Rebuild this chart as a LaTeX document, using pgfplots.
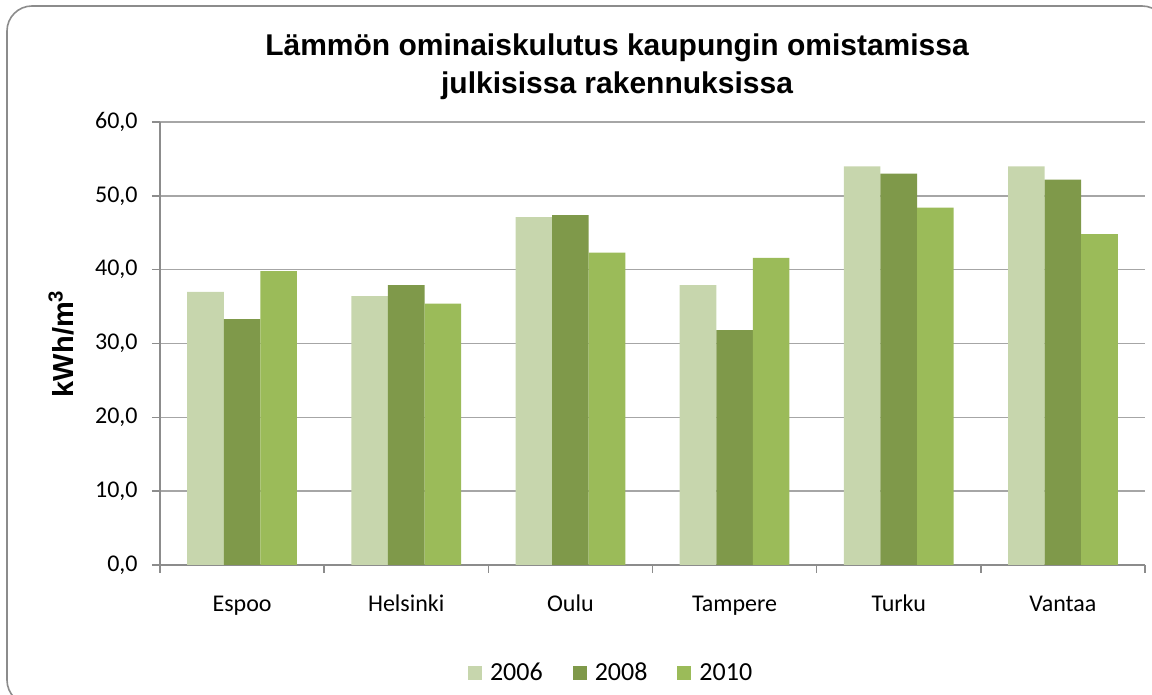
\documentclass[border=0pt]{standalone}
\usepackage{pgfplots}
\pgfplotsset{compat=1.18}
\usepackage{fontspec}
\setmainfont{Carlito}
\newfontfamily\arial{Liberation Sans}

\definecolor{c2006}{HTML}{C7D6AD}
\definecolor{c2008}{HTML}{7F994A}
\definecolor{c2010}{HTML}{9BBB59}
\definecolor{gridgray}{HTML}{A6A6A6}
\definecolor{axgray}{HTML}{8C8C8C}

\begin{document}
\begin{tikzpicture}
% picture frame in px/2 units, axis box lower left at origin
\useasboundingbox (-80pt,-65pt) rectangle (496pt,282.5pt);
\clip (-80pt,-65pt) rectangle (496pt,282.5pt);
\draw[axgray, line width=0.8pt, rounded corners=12.5pt] (-76.5pt,279.5pt) rectangle (503.5pt,-70pt);

\begin{axis}[
    at={(0,0)}, anchor=south west,
    scale only axis,
    width=492.5pt, height=221.5pt,
    ybar=0pt, bar width=18.3pt,
    xmin=-0.5, xmax=5.5,
    ymin=0, ymax=60,
    xtick={-0.5,0.5,...,5.5},
    x tick label as interval=true,
    xticklabels={Espoo,Helsinki,Oulu,Tampere,Turku,Vantaa},
    ytick={0,10,...,60},
    axis x line*=bottom, axis y line*=left,
    axis line style={axgray, line width=0.7pt},
    tick style={axgray, line width=0.7pt},
    tick align=outside, major tick length=4pt,
    ymajorgrids, grid style={gridgray, line width=0.75pt},
    tick label style={font=\fontsize{12}{14}\selectfont},
    /pgf/number format/assume math mode=true,
    yticklabel style={anchor=east, inner sep=0pt, xshift=-7pt,
        /pgf/number format/.cd, fixed, fixed zerofill, precision=1, use comma},
    xticklabel style={anchor=base, yshift=-19.5pt},
    title={Lämmön ominaiskulutus kaupungin omistamissa\\julkisissa rakennuksissa},
    title style={at={(0.464,1.174)}, anchor=north, align=center, inner sep=0pt,
        font=\arial\bfseries\fontsize{15}{19}\selectfont},
    ylabel={kWh/m\textsuperscript{3}},
    ylabel style={at={(-0.1005,0.5)}, anchor=center, font=\arial\bfseries\fontsize{14.5}{17}\selectfont},
    legend style={draw=none, at={(0.459,-0.244)}, anchor=center, legend columns=-1,
        font=\fontsize{13}{15}\selectfont,
        /tikz/every odd column/.append style={column sep=2pt},
        /tikz/every even column/.append style={column sep=13pt}},
    legend image code/.code={\fill[#1] (0pt,-3.5pt) rectangle (7pt,3.5pt);},
]
\addplot[fill=c2006, draw=none] coordinates {(0,37.0) (1,36.4) (2,47.1) (3,37.9) (4,54.0) (5,54.0)};
\addplot[fill=c2008, draw=none] coordinates {(0,33.3) (1,37.9) (2,47.4) (3,31.8) (4,53.0) (5,52.2)};
\addplot[fill=c2010, draw=none] coordinates {(0,39.8) (1,35.4) (2,42.3) (3,41.6) (4,48.4) (5,44.8)};
\legend{2006,2008,2010}
\end{axis}
\end{tikzpicture}
\end{document}
